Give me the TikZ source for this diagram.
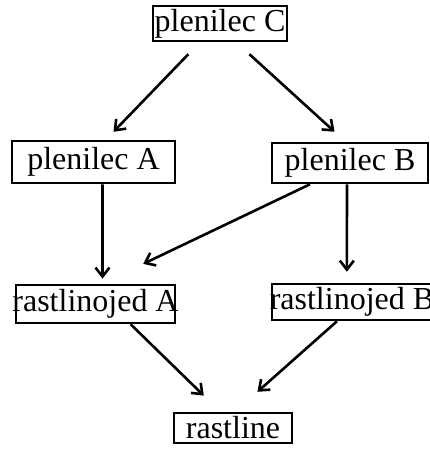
\documentclass[tikz,border=0pt]{standalone}
\usepackage{fontspec}
\setmainfont{Liberation Serif}
\usetikzlibrary{arrows.meta}

\begin{document}
\begin{tikzpicture}[x=1pt, y=-1pt,
    box/.style={rectangle, draw, line width=2.6pt, inner sep=0pt, font=\fontsize{32}{37}\selectfont},
    arr/.style={line width=2.6pt, -{Straight Barb[length=9pt,width=14pt]}}]
    \clip (0,0) rectangle (430,453);

    % Predators
    \node[box, minimum width=134pt, minimum height=35pt] (pC) at (220,23.5) {plenilec C};
    \node[box, minimum width=163pt, minimum height=42pt] (pA) at (93.5,162) {plenilec A};
    \node[box, minimum width=156pt, minimum height=40pt] (pB) at (350,163) {plenilec B};

    % Herbivores
    \node[box, minimum width=159pt, minimum height=38pt] (rA) at (95.5,304) {\makebox[0pt]{rastlinojed A}};
    \node[box, minimum width=160pt, minimum height=36pt] (rB) at (352,302) {\makebox[0pt]{rastlinojed B}};

    % Plants
    \node[box, minimum width=118pt, minimum height=30pt] (rs) at (233,428) {rastline};

    % Who eats whom
    \draw[arr, shorten <=16.6pt, shorten >=11pt] (pC.223) -- (pA.61);
    \draw[arr, shorten <=17.7pt, shorten >=14.8pt] (pC.311) -- (pB.102);
    \draw[arr, shorten >=5pt] (pA.292) -- (rA.71);
    \draw[arr, shorten >=46pt] (pB.208) -- (rA.73);
    \draw[arr, shorten >=11pt] (pB.262) -- (rB.105);
    \draw[arr, shorten >=23pt] (rA.330) -- (rs.128);
    \draw[arr, shorten >=30pt] (rB.232) -- (rs.83);
\end{tikzpicture}
\end{document}
